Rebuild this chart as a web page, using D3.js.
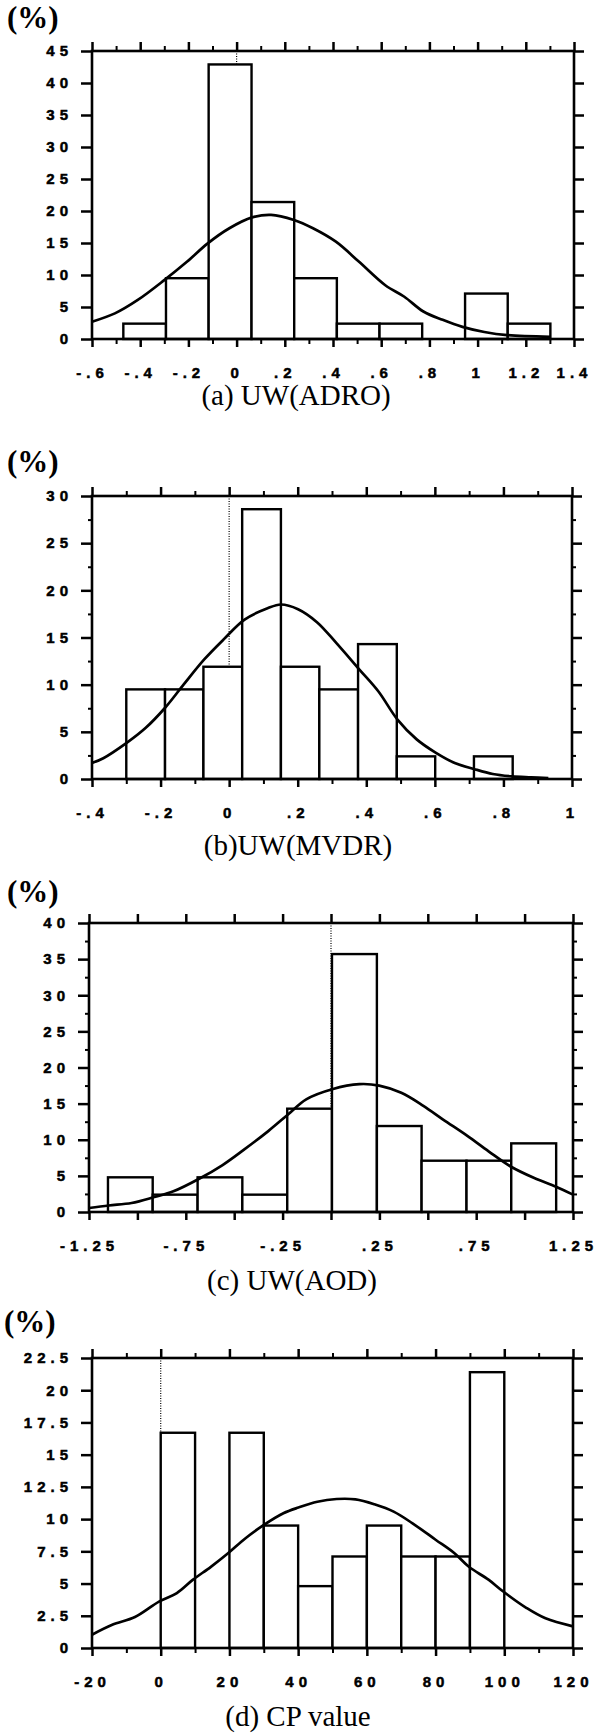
<!DOCTYPE html>
<html>
  <head>
    <meta charset="utf-8">
    <title>UW and CP histograms</title>
    <script src="https://cdn.jsdelivr.net/npm/d3@7"></script>
    <style>
      body { margin: 0; background: #fff; }
      svg { display: block; }
      .axis text { font-family: "Liberation Sans", Arial, sans-serif; font-weight: bold; font-size: 15px; letter-spacing: 5px; fill: #000; stroke: #000; stroke-width: 0.5px; }
      .axis line { stroke: #000; stroke-width: 2.5px; }
      .axis path { display: none; }
      .minor line { stroke-width: 2px; }
      .title { font-family: "Liberation Serif", serif; font-size: 29px; }
      .unit { font-family: "Liberation Serif", serif; font-size: 31px; font-weight: bold; }
    </style>
  </head>
  <body>
    <svg id="chart" width="597" height="1734"></svg>
    <script>
      // (a) UW(ADRO)
      const edgesA = [-0.47, -0.293, -0.116, 0.062, 0.239, 0.416, 0.593, 0.770, 0.948, 1.125, 1.302];
      const pctA = [2.4, 9.5, 42.9, 21.4, 9.5, 2.4, 2.4, 0, 7.1, 2.4];
      const fitXA = [-0.6, -0.505, -0.41, -0.3, -0.205, -0.121, -0.03, 0.064, 0.143, 0.238, 0.317, 0.412, 0.507, 0.617, 0.696, 0.775, 0.855, 0.937, 1.028, 1.123, 1.302];
      const fitYA = [2.7, 4.0, 6.1, 9.2, 12.1, 14.9, 17.3, 19.0, 19.4, 18.6, 17.3, 15.2, 12.1, 8.4, 6.6, 4.3, 3.0, 1.9, 1.1, 0.6, 0.35];
      const xTicksA = [-0.6, -0.4, -0.2, 0, 0.2, 0.4, 0.6, 0.8, 1, 1.2, 1.4];
      const xLabelsA = ["-.6", "-.4", "-.2", "0", ".2", ".4", ".6", ".8", "1", "1.2", "1.4"];
      const xMinorA = [-0.5, -0.3, -0.1, 0.1, 0.3, 0.5, 0.7, 0.9, 1.1, 1.3];
      const yTicksA = [0, 5, 10, 15, 20, 25, 30, 35, 40, 45];

      // (b) UW(MVDR)
      const edgesB = [-0.300, -0.187, -0.075, 0.038, 0.151, 0.263, 0.376, 0.489, 0.601, 0.714, 0.827];
      const pctB = [9.5, 9.5, 11.9, 28.6, 11.9, 9.5, 14.3, 2.4, 0, 2.4];
      const fitXB = [-0.4, -0.367, -0.3, -0.244, -0.188, -0.133, -0.072, -0.016, 0.045, 0.112, 0.151, 0.201, 0.257, 0.313, 0.38, 0.435, 0.491, 0.547, 0.602, 0.658, 0.714, 0.769, 0.825, 0.881, 0.931];
      const fitYB = [1.7, 2.2, 3.8, 5.4, 7.5, 10.0, 12.7, 14.8, 16.9, 18.1, 18.5, 18.0, 16.6, 14.4, 11.6, 9.3, 6.3, 4.2, 2.8, 1.7, 1.06, 0.53, 0.28, 0.18, 0.1];
      const xTicksB = [-0.4, -0.2, 0, 0.2, 0.4, 0.6, 0.8, 1];
      const xLabelsB = ["-.4", "-.2", "0", ".2", ".4", ".6", ".8", "1"];
      const xMinorB = [-0.3, -0.1, 0.1, 0.3, 0.5, 0.7, 0.9];
      const yTicksB = [0, 5, 10, 15, 20, 25, 30];
      const yMinorB = [2.5, 7.5, 12.5, 17.5, 22.5, 27.5];

      // (c) UW(AOD)
      const edgesC = [-1.152, -0.921, -0.689, -0.458, -0.226, 0.005, 0.237, 0.468, 0.700, 0.931, 1.163];
      const pctC = [4.8, 2.4, 4.8, 2.4, 14.3, 35.7, 11.9, 7.1, 7.1, 9.5];
      const fitXC = [-1.25, -1.148, -1.03, -0.912, -0.814, -0.681, -0.56, -0.451, -0.324, -0.222, -0.128, 0.006, 0.147, 0.249, 0.363, 0.477, 0.579, 0.706, 0.814, 0.928, 1.05, 1.162, 1.25];
      const fitYC = [0.55, 0.9, 1.24, 2.07, 2.86, 4.6, 6.5, 8.6, 11.2, 13.5, 15.6, 17.0, 17.7, 17.5, 16.5, 14.7, 12.8, 10.5, 8.4, 6.3, 4.7, 3.5, 2.4];
      const xTicksC = [-1.25, -1, -0.75, -0.5, -0.25, 0, 0.25, 0.5, 0.75, 1, 1.25];
      const xLabelsC = ["-1.25", "", "-.75", "", "-.25", "", ".25", "", ".75", "", "1.25"];
      const yTicksC = [0, 5, 10, 15, 20, 25, 30, 35, 40];
      const yMinorC = [2.5, 7.5, 12.5, 17.5, 22.5, 27.5, 32.5, 37.5];

      // (d) CP value
      const edgesD = [0, 10, 20, 30, 40, 50, 60, 70, 80, 90, 100];
      const pctD = [16.7, 0, 16.7, 9.5, 4.8, 7.1, 9.5, 7.1, 7.1, 21.4];
      const fitXD = [-20, -14.1, -7.5, -0.5, 4.7, 9.4, 14.6, 19.6, 24.6, 29.6, 35.7, 40.1, 45.6, 51.2, 56.7, 62.2, 67.8, 73.3, 80, 85.5, 89.7, 95.4, 99.6, 106.5, 112, 120];
      const fitYD = [1.03, 1.8, 2.4, 3.6, 4.26, 5.3, 6.3, 7.35, 8.5, 9.47, 10.45, 10.9, 11.35, 11.56, 11.53, 11.15, 10.58, 9.67, 8.4, 7.35, 6.3, 5.3, 4.4, 3.1, 2.3, 1.68];
      const xTicksD = [-20, 0, 20, 40, 60, 80, 100, 120];
      const xLabelsD = ["-20", "0", "20", "40", "60", "80", "100", "120"];
      const xMinorD = [-10, 10, 30, 50, 70, 90, 110];
      const yTicksD = [0, 2.5, 5, 7.5, 10, 12.5, 15, 17.5, 20, 22.5];

      const titles = ["(a) UW(ADRO)", "(b)UW(MVDR)", "(c) UW(AOD)", "(d) CP value"];

      const panels = [
        { left: 92, right: 574, top: 51, bottom: 339, xDom: [-0.6, 1.4], yDom: [0, 45], edges: edgesA, pct: pctA, fitX: fitXA, fitY: fitYA,
          xTicks: xTicksA, xLabels: xLabelsA, xMinor: xMinorA, yTicks: yTicksA, yMinor: [], unitX: 7, unitY: 17, titleY: 395, titleX: 296 },
        { left: 92, right: 572, top: 496, bottom: 779, xDom: [-0.4, 1], yDom: [0, 30], edges: edgesB, pct: pctB, fitX: fitXB, fitY: fitYB,
          xTicks: xTicksB, xLabels: xLabelsB, xMinor: xMinorB, yTicks: yTicksB, yMinor: yMinorB, unitX: 7, unitY: 461, titleY: 845, titleX: 298 },
        { left: 89, right: 573, top: 923, bottom: 1212, xDom: [-1.25, 1.25], yDom: [0, 40], edges: edgesC, pct: pctC, fitX: fitXC, fitY: fitYC,
          xTicks: xTicksC, xLabels: xLabelsC, xMinor: [], yTicks: yTicksC, yMinor: yMinorC, unitX: 7, unitY: 891, titleY: 1280, titleX: 292 },
        { left: 92, right: 573, top: 1358, bottom: 1648, xDom: [-20, 120], yDom: [0, 22.5], edges: edgesD, pct: pctD, fitX: fitXD, fitY: fitYD,
          xTicks: xTicksD, xLabels: xLabelsD, xMinor: xMinorD, yTicks: yTicksD, yMinor: [], unitX: 4, unitY: 1321, titleY: 1716, titleX: 298 }
      ];

      const svg = d3.select("#chart");

      panels.forEach(function(p, i) {
        const x = d3.scaleLinear().domain(p.xDom).range([p.left, p.right]);
        const y = d3.scaleLinear().domain(p.yDom).range([p.bottom, p.top]);
        const g = svg.append("g");

        // dotted zero line, hidden behind the bars
        g.append("line")
          .attr("x1", x(0)).attr("x2", x(0))
          .attr("y1", p.top).attr("y2", p.bottom)
          .attr("stroke", "#000")
          .attr("stroke-width", 1.2)
          .attr("stroke-dasharray", "1,1.5");

        // bars
        const bins = p.pct.map(function(v, j) { return { x0: p.edges[j], x1: p.edges[j + 1], v: v }; })
          .filter(function(d) { return d.v > 0; });
        g.selectAll(".bar")
          .data(bins)
          .enter().append("rect")
            .attr("x", function(d) { return x(d.x0); })
            .attr("width", function(d) { return x(d.x1) - x(d.x0); })
            .attr("y", function(d) { return y(d.v); })
            .attr("height", function(d) { return y(0) - y(d.v); })
            .attr("fill", "#fff")
            .attr("stroke", "#000")
            .attr("stroke-width", 2.4);

        // fitted curve
        const line = d3.line()
          .x(function(d) { return x(d[0]); })
          .y(function(d) { return y(d[1]); })
          .curve(d3.curveCatmullRom);
        g.append("path")
          .datum(p.fitX.map(function(v, j) { return [v, p.fitY[j]]; }))
          .attr("d", line)
          .attr("fill", "none")
          .attr("stroke", "#000")
          .attr("stroke-width", 2.7);

        // frame
        g.append("rect")
          .attr("x", p.left).attr("y", p.top)
          .attr("width", p.right - p.left).attr("height", p.bottom - p.top)
          .attr("fill", "none")
          .attr("stroke", "#000")
          .attr("stroke-width", 2.6);

        // axes
        g.append("g").attr("class", "axis")
          .attr("transform", "translate(0," + p.bottom + ")")
          .call(d3.axisBottom(x).tickValues(p.xTicks).tickSize(8).tickPadding(20)
            .tickFormat(function(d, j) { return p.xLabels[j]; }));
        g.append("g").attr("class", "axis")
          .attr("transform", "translate(0," + p.top + ")")
          .call(d3.axisTop(x).tickValues(p.xTicks).tickSize(9).tickFormat(""));
        if (p.xMinor.length) {
          g.append("g").attr("class", "axis minor")
            .attr("transform", "translate(0," + p.bottom + ")")
            .call(d3.axisBottom(x).tickValues(p.xMinor).tickSize(5).tickFormat(""));
          g.append("g").attr("class", "axis minor")
            .attr("transform", "translate(0," + p.top + ")")
            .call(d3.axisTop(x).tickValues(p.xMinor).tickSize(5).tickFormat(""));
        }
        g.append("g").attr("class", "axis")
          .attr("transform", "translate(" + p.left + ",0)")
          .call(d3.axisLeft(y).tickValues(p.yTicks).tickSize(11).tickPadding(8)
            .tickFormat(function(d) { return String(d); }));
        g.append("g").attr("class", "axis")
          .attr("transform", "translate(" + p.right + ",0)")
          .call(d3.axisRight(y).tickValues(p.yTicks).tickSize(10).tickFormat(""));
        if (p.yMinor.length) {
          g.append("g").attr("class", "axis minor")
            .attr("transform", "translate(" + p.left + ",0)")
            .call(d3.axisLeft(y).tickValues(p.yMinor).tickSize(4).tickFormat(""));
          g.append("g").attr("class", "axis minor")
            .attr("transform", "translate(" + p.right + ",0)")
            .call(d3.axisRight(y).tickValues(p.yMinor).tickSize(4).tickFormat(""));
        }

        // unit and caption
        g.append("text").attr("class", "unit")
          .attr("x", p.unitX).attr("y", p.unitY).attr("dy", "0.35em")
          .text("(%)");
        g.append("text").attr("class", "title")
          .attr("x", p.titleX).attr("y", p.titleY).attr("dy", "0.35em")
          .attr("text-anchor", "middle")
          .text(titles[i]);
      });
    </script>
  </body>
</html>
